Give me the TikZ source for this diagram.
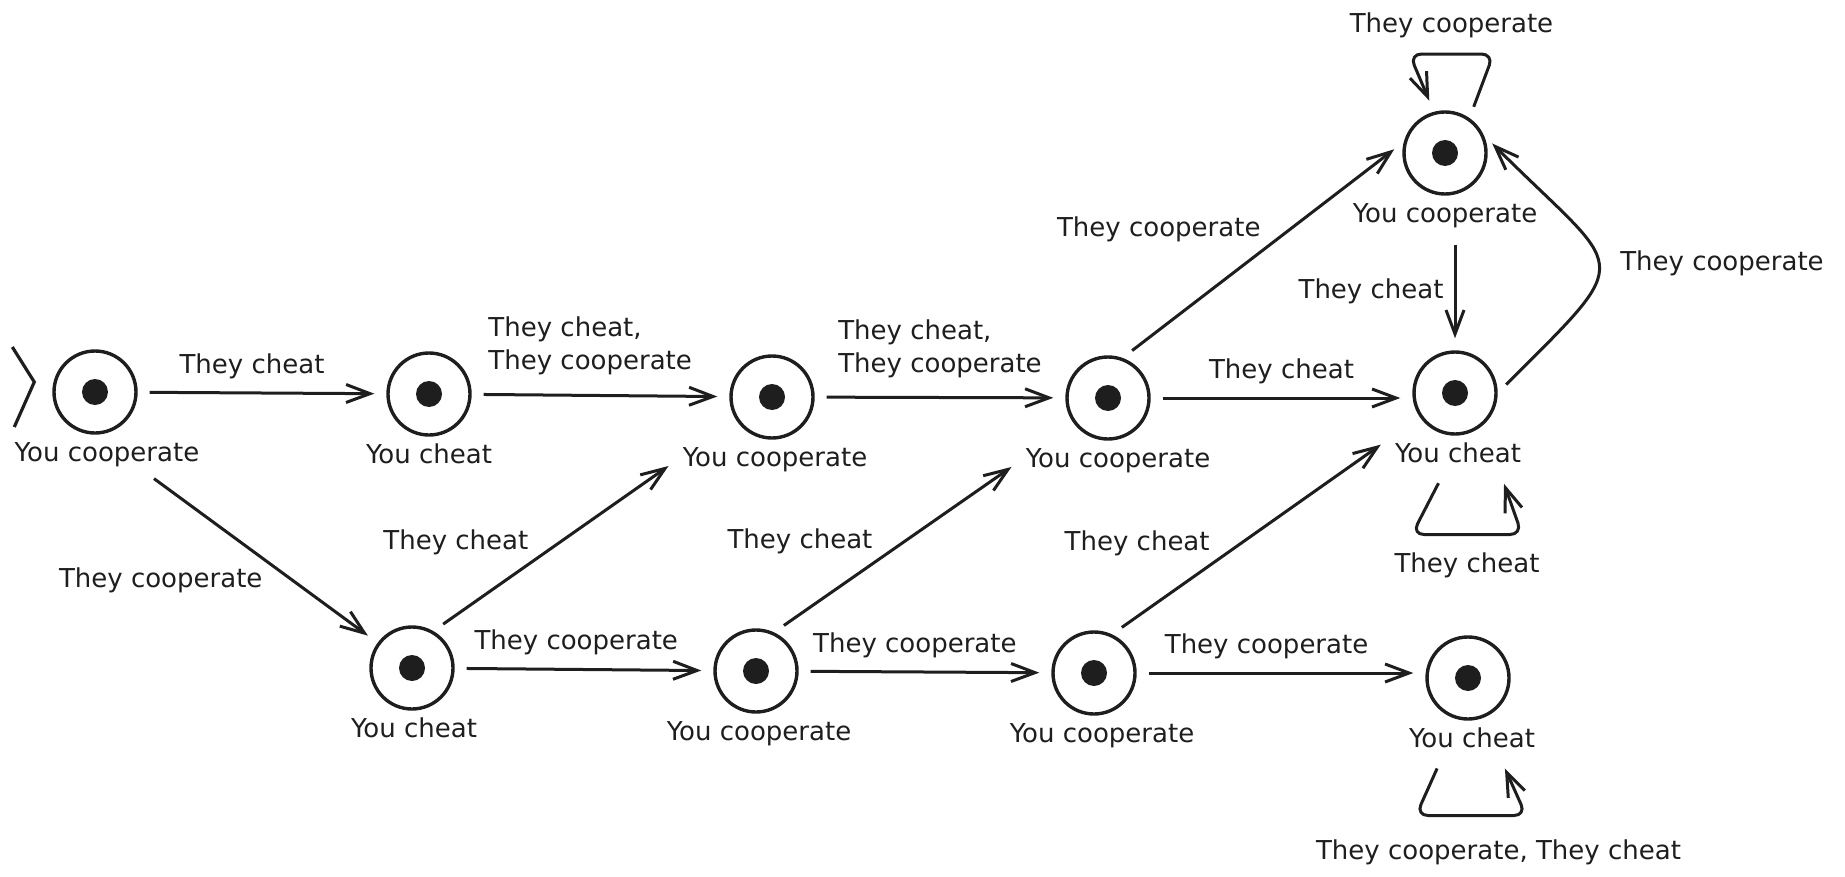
\documentclass[tikz,border=0pt]{standalone}
\usepackage{fontspec}
\setmainfont{DejaVu Sans}
\usepackage{tikz}
\usetikzlibrary{arrows.meta,%
                positioning}
\definecolor{ink}{HTML}{1E1E1E}

\begin{document}
\begin{tikzpicture}[x=0.5pt, y=-0.5pt, >={Straight Barb[length=12pt,width=9pt]}]
  \tikzstyle{every node} = [font=\fontsize{13pt}{16.5pt}\selectfont,
                            text=ink,
                            inner sep=2pt,
                            text height=10pt,
                            text depth=3pt]
  \tikzstyle{state} = [circle, draw=ink, line width=1.7pt, minimum size=41pt,
                       path picture={\fill[ink] (path picture bounding box.center) circle (6.5pt);}]
\tikzset{EdgeStyle/.style={->, draw=ink, line width=1.5pt, shorten >=6pt, shorten <=6pt}}
\useasboundingbox (0,0) rectangle (1845,877);

\node[state] (A0) at (95,392) {};
\node[state] (A1) at (429,394) {};
\node[state] (A2) at (772,397) {};
\node[state] (A3) at (1108,398) {};
\node[state] (A4) at (1445,153) {};
\node[state] (A5) at (1455,393) {};
\node[state] (A6) at (412,668) {};
\node[state] (A7) at (756,671) {};
\node[state] (A8) at (1094,673) {};
\node[state] (A9) at (1468,678) {};

\node[below=1pt of A0, xshift=6pt] (Y0) {You cooperate};
\node[below=1pt of A1] (Y1) {You cheat};
\node[below=1pt of A2, xshift=1.5pt] (Y2) {You cooperate};
\node[below=1pt of A3, xshift=5pt] (Y3) {You cooperate};
\node[below=1pt of A4] (Y4) {You cooperate};
\node[below=1pt of A5, xshift=1.5pt] (Y5) {You cheat};
\node[below=1pt of A6, xshift=1pt] (Y6) {You cheat};
\node[below=1pt of A7, xshift=1.5pt] (Y7) {You cooperate};
\node[below=1pt of A8, xshift=4pt] (Y8) {You cooperate};
\node[below=1pt of A9, xshift=2pt] (Y9) {You cheat};

% start mark
\draw[draw=ink, line width=1.6pt] ([shift={(-20pt,22.5pt)}]A0.west) -- ([shift={(-9pt,5pt)}]A0.west) -- ([shift={(-19pt,-17.5pt)}]A0.west);

\tikzstyle{LabelStyle} = [above=4pt]
\draw[EdgeStyle] (A0) -- node[LabelStyle, pos=.46] (T01) {They cheat} (A1);
\draw[EdgeStyle] (A3) -- node[LabelStyle] (T35) {They cheat} (A3 -| A5.west);
\draw[EdgeStyle] (A6) -- node[LabelStyle, pos=.47] (T67) {They cooperate} (A7);
\draw[EdgeStyle] (A7) -- node[LabelStyle, pos=.46] (T78) {They cooperate} (A8);
\draw[EdgeStyle] (A8) -- node[LabelStyle, pos=.45] (T89) {They cooperate} (A8 -| A9.west);
\tikzstyle{LabelStyle} = [above=7pt, align=left]
\draw[EdgeStyle] (A1) -- node[LabelStyle, pos=.46] (T12) {They cheat,\\They cooperate} (A2);
\draw[EdgeStyle] (A2) -- node[LabelStyle] (T23) {They cheat,\\They cooperate} (A3);

\tikzstyle{LabelStyle} = [above left]
\draw[EdgeStyle] (A6.60) -- node[LabelStyle, pos=.41] (T62) {They cheat} (Y2.west);
\draw[EdgeStyle] (A7.65) -- node[LabelStyle, pos=.42] (T73) {They cheat} (Y3.west);
\draw[EdgeStyle] (A8.65) -- node[LabelStyle, pos=.37] (T85) {They cheat} (Y5.north west);
\draw[EdgeStyle] (A3.70) -- node[LabelStyle, pos=.51] (T34) {They cooperate} (A4.165);
\tikzstyle{LabelStyle} = [below left]
\draw[EdgeStyle] (Y0.-25) -- node[LabelStyle, pos=.53] (T06) {They cooperate} (A6);

\tikzstyle{LabelStyle} = [left=3pt]
\draw[EdgeStyle] (Y4.south -| A5) -- node[LabelStyle] (T45) {They cheat} (A5);
\tikzstyle{LabelStyle} = [right=9pt]
\draw[EdgeStyle] (A5.east) to[out=45, in=-45, distance=100pt] node[LabelStyle] (T54) {They cooperate} (A4.25);

% loops
\tikzstyle{LabelStyle} = [above=5pt]
\draw[EdgeStyle, rounded corners=6pt] (A4.55) -- ++(12pt,32pt) -- node[LabelStyle] (T44) {They cooperate} ++(-42pt,0) -- (A4.105);
\tikzstyle{LabelStyle} = [below=6pt]
\draw[EdgeStyle, rounded corners=6pt] ([xshift=-7pt]Y5.south) -- ++(-16pt,-31pt) -- node[LabelStyle] (T55) {They cheat} ++(55pt,0) -- ([xshift=21pt]Y5.south);
\tikzstyle{LabelStyle} = [below=9pt]
\draw[EdgeStyle, rounded corners=6pt] ([xshift=-15pt]Y9.south) -- ++(-13pt,-29pt) -- node[LabelStyle, pos=.75] (T99) {They cooperate, They cheat} ++(55pt,0) -- ([xshift=14pt]Y9.south);

\end{tikzpicture}
\end{document}
